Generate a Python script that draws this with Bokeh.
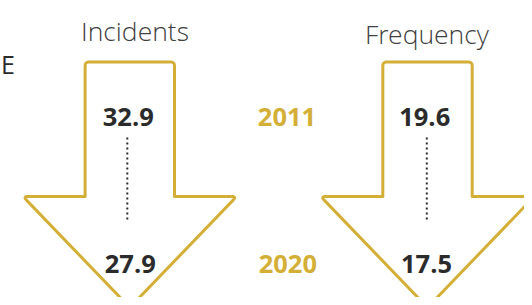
import numpy as np
from bokeh.plotting import figure
from bokeh.models import Range1d, ColumnDataSource
from bokeh.core.properties import value
from bokeh.embed import file_html
from bokeh.resources import INLINE

# ---- data ----
metrics = ["Incidents", "Frequency"]
years = ["2011", "2020"]
start_values = [32.9, 19.6]
end_values = [27.9, 17.5]
cropped_label = ["E"]

# ---- layout (image pixel space) ----
GOLD = "#D4AF37"
DARK = "#2b2b2b"
arrow_cx = [129.3, 427.0]
title_x = [134.5, 426.5]
title_y = [30.0, 33.0]
value_x = [[127.8, 129.8], [424.2, 426.0]]
row_y = [116.0, 263.5]
year_x = 286.5
dot_x = [126.8, 426.3]
dot_top, dot_bot = 137.0, 222.0

rect_hw, head_hw = 44.7, 106.8
top_y, shoulder_y, tip_y = 61.5, 196.0, 307.0


def rounded_polygon(pts, radii, n=8):
    xs, ys = [], []
    m = len(pts)
    for i in range(m):
        p = np.array(pts[i], float)
        r = radii[i]
        if r <= 0:
            xs.append(p[0]); ys.append(p[1]); continue
        a = np.array(pts[i - 1], float)
        b = np.array(pts[(i + 1) % m], float)
        u = (a - p) / np.linalg.norm(a - p)
        v = (b - p) / np.linalg.norm(b - p)
        p1 = p + u * r
        p2 = p + v * r
        for t in np.linspace(0, 1, n):
            q = (1 - t) ** 2 * p1 + 2 * (1 - t) * t * p + t ** 2 * p2
            xs.append(q[0]); ys.append(q[1])
    return xs, ys


p = figure(width=524, height=297, output_backend="svg", toolbar_location=None,
           x_range=Range1d(0, 524), y_range=Range1d(297, 0),
           min_border=0, outline_line_color=None)
p.axis.visible = False
p.xgrid.visible = False
p.ygrid.visible = False
p.background_fill_color = "white"
p.border_fill_color = "white"

for i, m in enumerate(metrics):
    cx = arrow_cx[i]
    pts = [(cx - rect_hw, top_y), (cx + rect_hw, top_y), (cx + rect_hw, shoulder_y),
           (cx + head_hw, shoulder_y), (cx, tip_y), (cx - head_hw, shoulder_y),
           (cx - rect_hw, shoulder_y)]
    radii = [4, 4, 0, 5, 0, 5, 0]
    xs, ys = rounded_polygon(pts, radii)
    p.patch(xs, ys, fill_color="white", line_color=GOLD, line_width=3, line_join="round")
    p.line([dot_x[i], dot_x[i]], [dot_top, dot_bot], line_color=DARK, line_width=2,
           line_dash="2 3")

# titles
p.text(x=title_x, y=title_y, text=metrics, text_font=value("Open Sans Light"),
       text_font_size="26.5px", text_color="#404040", text_align="center",
       text_baseline="alphabetic")

# values
val_src = ColumnDataSource(dict(
    x=[value_x[0][0], value_x[1][0], value_x[0][1], value_x[1][1]],
    y=[row_y[0], row_y[0], row_y[1], row_y[1]],
    t=[f"{v:.1f}" for v in start_values] + [f"{v:.1f}" for v in end_values]))
p.text(x="x", y="y", text="t", source=val_src, text_font=value("Open Sans"),
       text_font_style="bold", text_font_size="25.5px", text_color=DARK,
       text_align="center", text_baseline="alphabetic")

# years
p.text(x=[year_x, year_x + 0.8], y=row_y, text=years, text_font=value("Open Sans"),
       text_font_style="bold", text_font_size="25.5px", text_color=GOLD,
       text_align="center", text_baseline="alphabetic")

# cropped label at left edge
p.text(x=[0.5], y=[63.5], text=cropped_label, text_font=value("Open Sans"),
       text_font_size="25px", text_color=DARK, text_align="left",
       text_baseline="alphabetic")

open("out.html", "w").write(file_html(p, INLINE))
